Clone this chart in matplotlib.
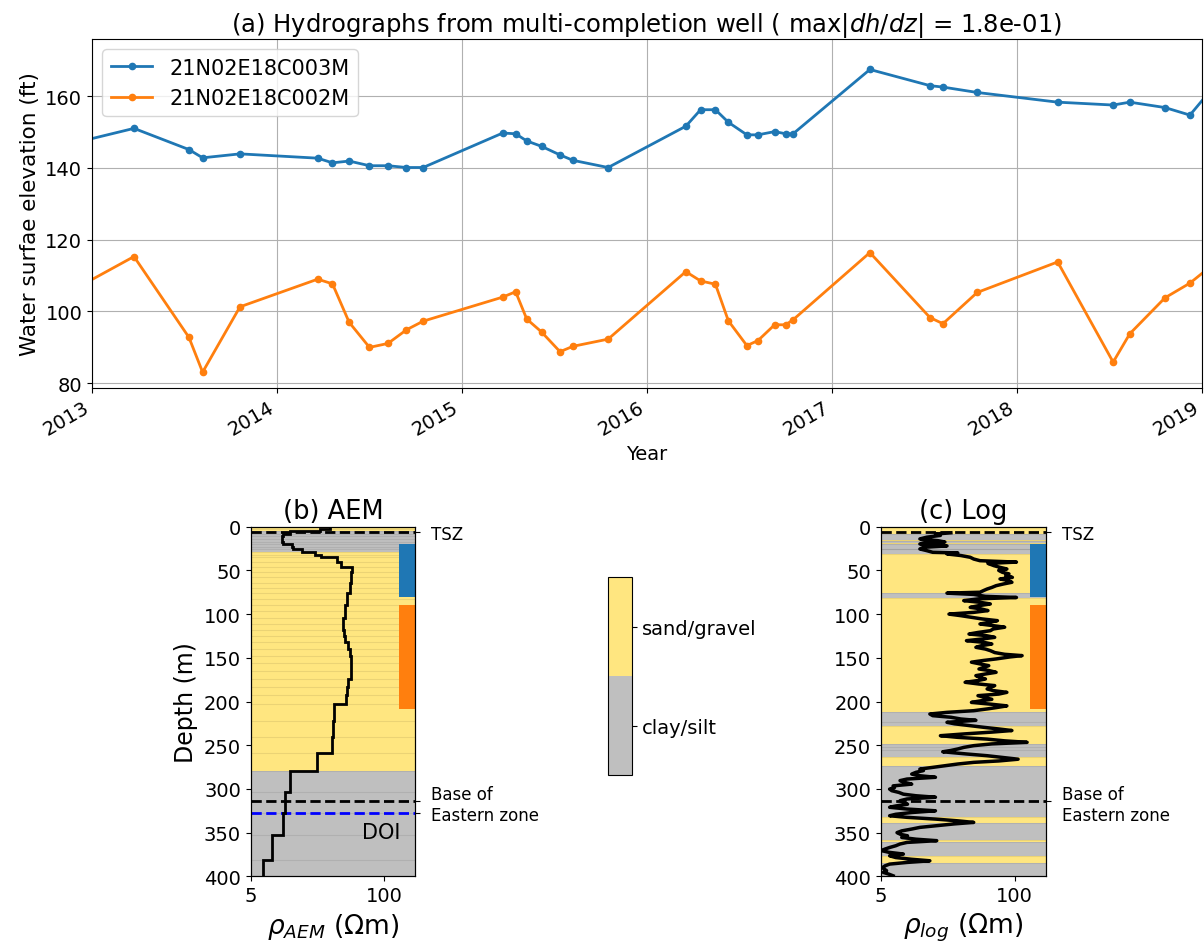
#!/usr/bin/env python3

import numpy as np
import matplotlib
matplotlib.use('Agg')
import matplotlib.pyplot as plt
from matplotlib.colors import ListedColormap, BoundaryNorm
from matplotlib.colorbar import ColorbarBase

# --- (a) hydrographs: decimal year, water surface elevation (ft)
hydro_year = [2012.78, 2013.227, 2013.524, 2013.598, 2013.80, 2014.22, 2014.30, 2014.39,
              2014.50, 2014.60, 2014.70, 2014.79, 2015.22, 2015.29, 2015.35, 2015.43,
              2015.53, 2015.60, 2015.79, 2016.21, 2016.29, 2016.37, 2016.44, 2016.54,
              2016.60, 2016.69, 2016.75, 2016.79, 2017.205, 2017.53, 2017.60, 2017.785,
              2018.22, 2018.52, 2018.61, 2018.80, 2018.935, 2019.2]
well_003 = [145.4, 151.0, 145.1, 142.8, 143.9, 142.7, 141.4, 141.9, 140.6, 140.6, 140.1,
            140.1, 149.7, 149.5, 147.5, 146.0, 143.6, 142.1, 140.1, 151.6, 156.2, 156.2,
            152.7, 149.2, 149.2, 150.1, 149.5, 149.5, 167.4, 162.9, 162.5, 161.0, 158.3,
            157.5, 158.3, 156.8, 154.7, 171.0]
well_002 = [102.7, 115.3, 92.8, 83.1, 101.3, 109.0, 107.7, 97.0, 90.0, 91.1, 94.9, 97.3,
            104.0, 105.5, 97.9, 94.3, 88.8, 90.3, 92.3, 111.1, 108.5, 107.6, 97.4, 90.5,
            91.9, 96.3, 96.3, 97.7, 116.4, 98.3, 96.6, 105.3, 113.8, 85.9, 93.8, 103.8,
            107.9, 118.9]
well_names = ['21N02E18C003M', '21N02E18C002M']
years = [2013, 2014, 2015, 2016, 2017, 2018, 2019]

# --- (b) AEM model: layer edges (m), resistivity (ohm-m), lithology (1 sand/gravel, 0 clay/silt)
aem_edges = [0, 2.5, 5.5, 8, 11, 14, 17, 20, 23, 26, 29, 32, 35, 40, 46, 52, 58, 64, 70, 76,
             83, 90, 97, 104, 111, 118, 125, 132, 140, 148, 156, 165, 174, 183, 192, 203,
             222, 241, 259, 280, 303, 327, 353, 381, 400]
aem_rho = [29.5, 23.9, 12.2, 10.3, 10.0, 10.0, 10.3, 12.6, 13.0, 15.8, 21.0, 24.0, 34.9,
           37.6, 49.0, 47.0, 48.0, 46.5, 46.0, 43.7, 43.0, 42.0, 41.5, 40.0, 40.0, 41.0,
           41.5, 44.4, 46.0, 47.5, 47.5, 47.0, 44.4, 43.0, 42.1, 32.4, 31.6, 31.2, 22.2,
           12.2, 10.7, 10.4, 8.15, 6.56]
aem_lith = [1, 1, 0, 0, 0, 0, 0, 0, 0, 0,
            1, 1, 1, 1, 1, 1, 1, 1, 1, 1, 1, 1, 1, 1, 1, 1, 1, 1, 1, 1,
            1, 1, 1, 1, 1, 1, 1, 1, 1,
            0, 0, 0, 0, 0]

# --- (c) borehole log lithology intervals
log_top = [0, 8, 15, 16, 19, 20, 25, 26, 31, 76, 82, 212, 224, 228, 249, 252, 256, 264,
           274, 332, 339, 358, 361, 377, 385]
log_bot = [8, 15, 16, 19, 20, 25, 26, 31, 76, 82, 212, 224, 228, 249, 252, 256, 264, 274,
           332, 339, 358, 361, 377, 385, 400]
log_lith = [1, 0, 1, 0, 1, 0, 1, 0, 1, 0, 1, 0, 0, 1, 0, 0, 0, 1, 0, 1, 0, 1, 0, 1, 0]

# resistivity log (depth m, ohm-m)
log_depth = [7, 8.4, 10, 12, 14, 16, 17.5, 18.5, 19.8, 21, 22, 23.6, 25.5, 27.4, 29.3, 30,
             31.2, 33, 35, 37, 38.9, 40.5, 42, 44.6, 46.5, 48.4, 50, 52.2, 54, 56, 58,
             59.8, 61.5, 63.6, 65.5, 67.5, 69.5, 71.3, 73, 75, 76, 77.5, 79.7, 81, 82.5,
             84.6, 86.5, 88.4, 90.5, 92.3, 94, 96, 98, 100, 101.8, 103.7, 105.5, 107.5,
             109.5, 111.3, 113, 115, 117, 119, 121, 122.8, 124.5, 126.6, 128.5, 130.4,
             132.3, 134.2, 136, 138, 140, 141.8, 144, 146, 147.5, 149, 151.3, 153, 155,
             157, 159, 161, 162.8, 164.5, 166.6, 168.5, 170.4, 172.3, 174.2, 176, 178,
             180, 181.8, 183.7, 185.6, 187.5, 189.5, 191.5, 193.3, 195.5, 197.5, 199, 201,
             203, 205, 207, 208.5, 210.5, 212.4, 214.3, 216.2, 218, 220, 221.5, 223.8,
             225.5, 227.5, 229.5, 231.4, 233.2, 235, 237, 239.1, 241, 243, 245, 246.7,
             248.5, 250.5, 252.5, 254.3, 256, 257.5, 260, 262, 264, 266, 268, 269.6,
             271.5, 273.5, 275.5, 277.3, 279, 281, 283, 284.9, 286.7, 288.7, 290.5, 292.5,
             294.5, 296.5, 298.5, 300.2, 302, 304, 306, 307.8, 309.5, 311.5, 313.5, 315.4,
             317.5, 319.5, 321, 323, 325, 327, 329, 330.7, 332.5, 334.5, 336.5, 338.3, 340,
             342, 344, 345.9, 348, 350, 352, 353.6, 355.5, 357.5, 359.2, 361.2, 363, 365,
             367, 368.8, 370.5, 372.5, 374.5, 376.5, 378.5, 380.5, 382.2, 384.1, 386, 388,
             390, 391.7, 393.5, 395.5, 397.5, 399.4]
log_rho = [24, 17, 19, 14, 12, 18, 21, 13, 12, 17, 22, 13, 12, 14, 16, 28,
           22, 30, 37, 40, 46, 104, 55, 63, 72, 84, 70, 76, 88, 82, 95,
           72, 86, 94, 78, 66, 60, 54, 50, 46, 22, 40, 52, 104, 45,
           32, 46, 58, 44, 37, 47, 55, 40, 23, 30, 38, 48, 68,
           56, 46, 60, 80, 62, 58, 44, 36, 52, 64, 48, 34,
           50, 60, 48, 42, 52, 58, 64, 80, 118, 90, 66, 50, 38,
           46, 56, 50, 45, 56, 66, 52, 42, 46, 52, 44, 33,
           45, 64, 58, 54, 62, 84, 70, 44, 52, 60, 48, 38,
           58, 84, 66, 54, 40, 22, 15, 16, 24, 30, 42, 22,
           26, 36, 50, 70, 94, 60, 33, 19, 28, 54, 80, 132,
           60, 40, 32, 28, 24, 20, 34, 54, 76, 108, 70, 40,
           28, 21, 16, 12, 13, 11, 10, 12, 17, 9, 7.7, 8.5,
           10, 6.6, 6.8, 6.1, 6.4, 7.5, 8.3, 11, 17, 9, 7.7, 8.5,
           9.1, 7, 6.1, 9, 17, 10, 7, 6.1, 9, 17, 28, 40, 26,
           17.5, 12, 10, 8, 7.2, 7.8, 9.1, 8, 11, 17.5, 9, 7.7, 7,
           6.1, 5.5, 5.05, 6, 8.3, 6.1, 7, 10, 15, 9, 6.1, 5.5,
           5.2, 5.4, 5.7, 5.3, 6, 6.6]

tsz_depth = 6
base_depth = 314
doi_depth = 327
screen_top = [20, 90]
screen_bot = [80, 208]

SAND = '#ffe680'
CLAY = '#bfbfbf'
lith_colors = [CLAY, SAND]


def draw_litho(ax, tops, bots, codes):
    for top, bot, code in zip(tops, bots, codes):
        ax.axhspan(top, bot, color=lith_colors[code], lw=0, zorder=0)
    ax.hlines(tops[1:], 5, 200, colors='k', alpha=0.08, lw=0.8, zorder=0.5)


def finish_depth_axis(ax, xlabel, right_ticks, right_labels):
    ax.set_xscale('log')
    ax.set_xlim(5, 200)
    ax.set_ylim(400, 0)
    ax.set_xticks([5, 100])
    ax.set_xticklabels(['5', '100'])
    ax.xaxis.set_minor_locator(matplotlib.ticker.NullLocator())
    ax.set_yticks(range(0, 401, 50))
    ax.tick_params(labelsize=14)
    ax.set_xlabel(xlabel, fontsize=19)
    for c, (t, b) in zip(['C0', 'C1'], zip(screen_top, screen_bot)):
        ax.fill_betweenx([t, b], 140, 200, color=c, lw=0, zorder=2)
    ax.axhline(tsz_depth, color='k', ls='--', lw=2, zorder=3)
    ax.axhline(base_depth, color='k', ls='--', lw=2, zorder=3)
    tw = ax.twinx()
    tw.set_ylim(400, 0)
    tw.set_yticks(right_ticks)
    tw.set_yticklabels(right_labels, fontsize=12)
    tw.tick_params(pad=8)


fig = plt.figure(figsize=(12.04, 9.45), dpi=100)

# (a)
ax = fig.add_axes([0.0764, 0.5884, 0.9219, 0.3693])
ax.plot(hydro_year, well_003, 'o-', color='C0', lw=2, ms=4.5, label=well_names[0])
ax.plot(hydro_year, well_002, 'o-', color='C1', lw=2, ms=4.5, label=well_names[1])
ax.set_xlim(2013, 2019)
ax.set_ylim(78.7, 175.9)
ax.set_xticks(years)
ax.set_xticklabels([str(y) for y in years], rotation=30, ha='right')
ax.tick_params(labelsize=14)
ax.grid(True)
ax.set_xlabel('Year', fontsize=14)
ax.set_ylabel('Water surfae elevation (ft)', fontsize=15.5)
ax.set_title(r'(a) Hydrographs from multi-completion well ( max|$dh/dz$| = 1.8e-01)',
             fontsize=17.5)
ax.legend(loc='upper left', fontsize=15)

# (b)
axb = fig.add_axes([0.2082, 0.0716, 0.1365, 0.37])
draw_litho(axb, aem_edges[:-1], aem_edges[1:], aem_lith)
axb.stairs(aem_rho, aem_edges, orientation='horizontal', baseline=None,
           color='k', lw=2, zorder=4)
axb.axhline(doi_depth, color='b', ls='--', lw=2, zorder=3)
axb.text(93, 349, 'DOI', fontsize=15, ha='center', va='center')
axb.set_ylabel('Depth (m)', fontsize=17)
axb.set_title('(b) AEM', fontsize=18.5)
finish_depth_axis(axb, r'$\rho_{AEM}$ ($\Omega$m)', [tsz_depth, base_depth, doi_depth],
                  ['TSZ', 'Base of\nEastern zone', ''])

# (c)
axc = fig.add_axes([0.7315, 0.0716, 0.137, 0.37])
draw_litho(axc, log_top, log_bot, log_lith)
axc.plot(log_rho, log_depth, color='k', lw=2.5, zorder=4)
axc.set_title('(c) Log', fontsize=18.5)
finish_depth_axis(axc, r'$\rho_{log}$ ($\Omega$m)', [tsz_depth, base_depth],
                  ['TSZ', 'Base of\nEastern zone'])

# lithology legend
cax = fig.add_axes([0.5047, 0.1788, 0.0204, 0.2092])
cb = ColorbarBase(cax, cmap=ListedColormap(lith_colors), norm=BoundaryNorm([0, 1, 2], 2),
                  ticks=[0.5, 1.5])
cb.set_ticklabels(['clay/silt', 'sand/gravel'])
cb.minorticks_off()
cb.ax.tick_params(labelsize=14)

fig.savefig('out.png', dpi=100)
